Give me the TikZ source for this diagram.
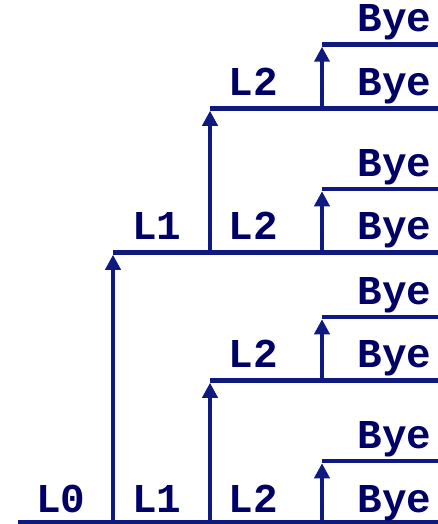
\documentclass[tikz,border=0pt]{standalone}
\usepackage{fontspec}
\newfontfamily\codefont{Liberation Mono}
\usetikzlibrary{arrows.meta}
\definecolor{linecol}{RGB}{14,26,128}
\definecolor{textcol}{RGB}{0,0,102}
\tikzset{
  hline/.style={draw=linecol, line width=4.5pt},
  fork/.style={draw=linecol, line width=4.5pt, -{Triangle[width=15pt,length=15pt]}, shorten >=2.25pt},
  lbl/.style={anchor=base, inner sep=0pt, text=textcol, font=\codefont\bfseries\fontsize{41}{41}\selectfont},
}
\begin{document}
\begin{tikzpicture}[x=1pt,y=-1pt]
\useasboundingbox (0,0) rectangle (438,524);
% junction coordinates
\coordinate (s0) at (18,522);   \coordinate (e0) at (438,522);
\coordinate (a0) at (113,522);  \coordinate (b0) at (210,522);  \coordinate (c0) at (322,522);
\coordinate (c1) at (322,461);  \coordinate (e1) at (438,461);
\coordinate (b2) at (210,380.5);\coordinate (c2) at (322,380.5);\coordinate (e2) at (438,380.5);
\coordinate (c3) at (322,317);  \coordinate (e3) at (438,317);
\coordinate (a4) at (113,252.5);\coordinate (b4) at (210,252.5);\coordinate (c4) at (322,252.5);\coordinate (e4) at (438,252.5);
\coordinate (c5) at (322,189);  \coordinate (e5) at (438,189);
\coordinate (b6) at (210,108.5);\coordinate (c6) at (322,108.5);\coordinate (e6) at (438,108.5);
\coordinate (c7) at (322,44.5); \coordinate (e7) at (438,44.5);
% horizontal lines
\draw[hline] (s0) -- (e0);
\draw[hline] (c1) -- (e1);
\draw[hline] (b2) -- (e2);
\draw[hline] (c3) -- (e3);
\draw[hline] (a4) -- (e4);
\draw[hline] (c5) -- (e5);
\draw[hline] (b6) -- (e6);
\draw[hline] (c7) -- (e7);
% forks
\draw[fork] (a0) -- (a4);
\draw[fork] (b0) -- (b2);
\draw[fork] (c0) -- (c1);
\draw[fork] (c2) -- (c3);
\draw[fork] (b4) -- (b6);
\draw[fork] (c4) -- (c5);
\draw[fork] (c6) -- (c7);
% labels
\node[lbl] (l0)  at (61,512)   {L0};
\node[lbl] (l1a) at (157,512)  {L1};
\node[lbl] (l2a) at (253,512)  {L2};
\node[lbl] (y0)  at (394.5,512) {Bye};
\node[lbl] (y1)  at (394.5,448) {Bye};
\node[lbl] (l2b) at (253,367.5){L2};
\node[lbl] (y2)  at (394.5,367.5) {Bye};
\node[lbl] (y3)  at (394.5,304) {Bye};
\node[lbl] (l1b) at (157,239.5){L1};
\node[lbl] (l2c) at (253,239.5){L2};
\node[lbl] (y4)  at (394.5,239.5) {Bye};
\node[lbl] (y5)  at (394.5,176) {Bye};
\node[lbl] (l2d) at (253,95.5) {L2};
\node[lbl] (y6)  at (394.5,95.5) {Bye};
\node[lbl] (y7)  at (394.5,31.5) {Bye};
\end{tikzpicture}
\end{document}
